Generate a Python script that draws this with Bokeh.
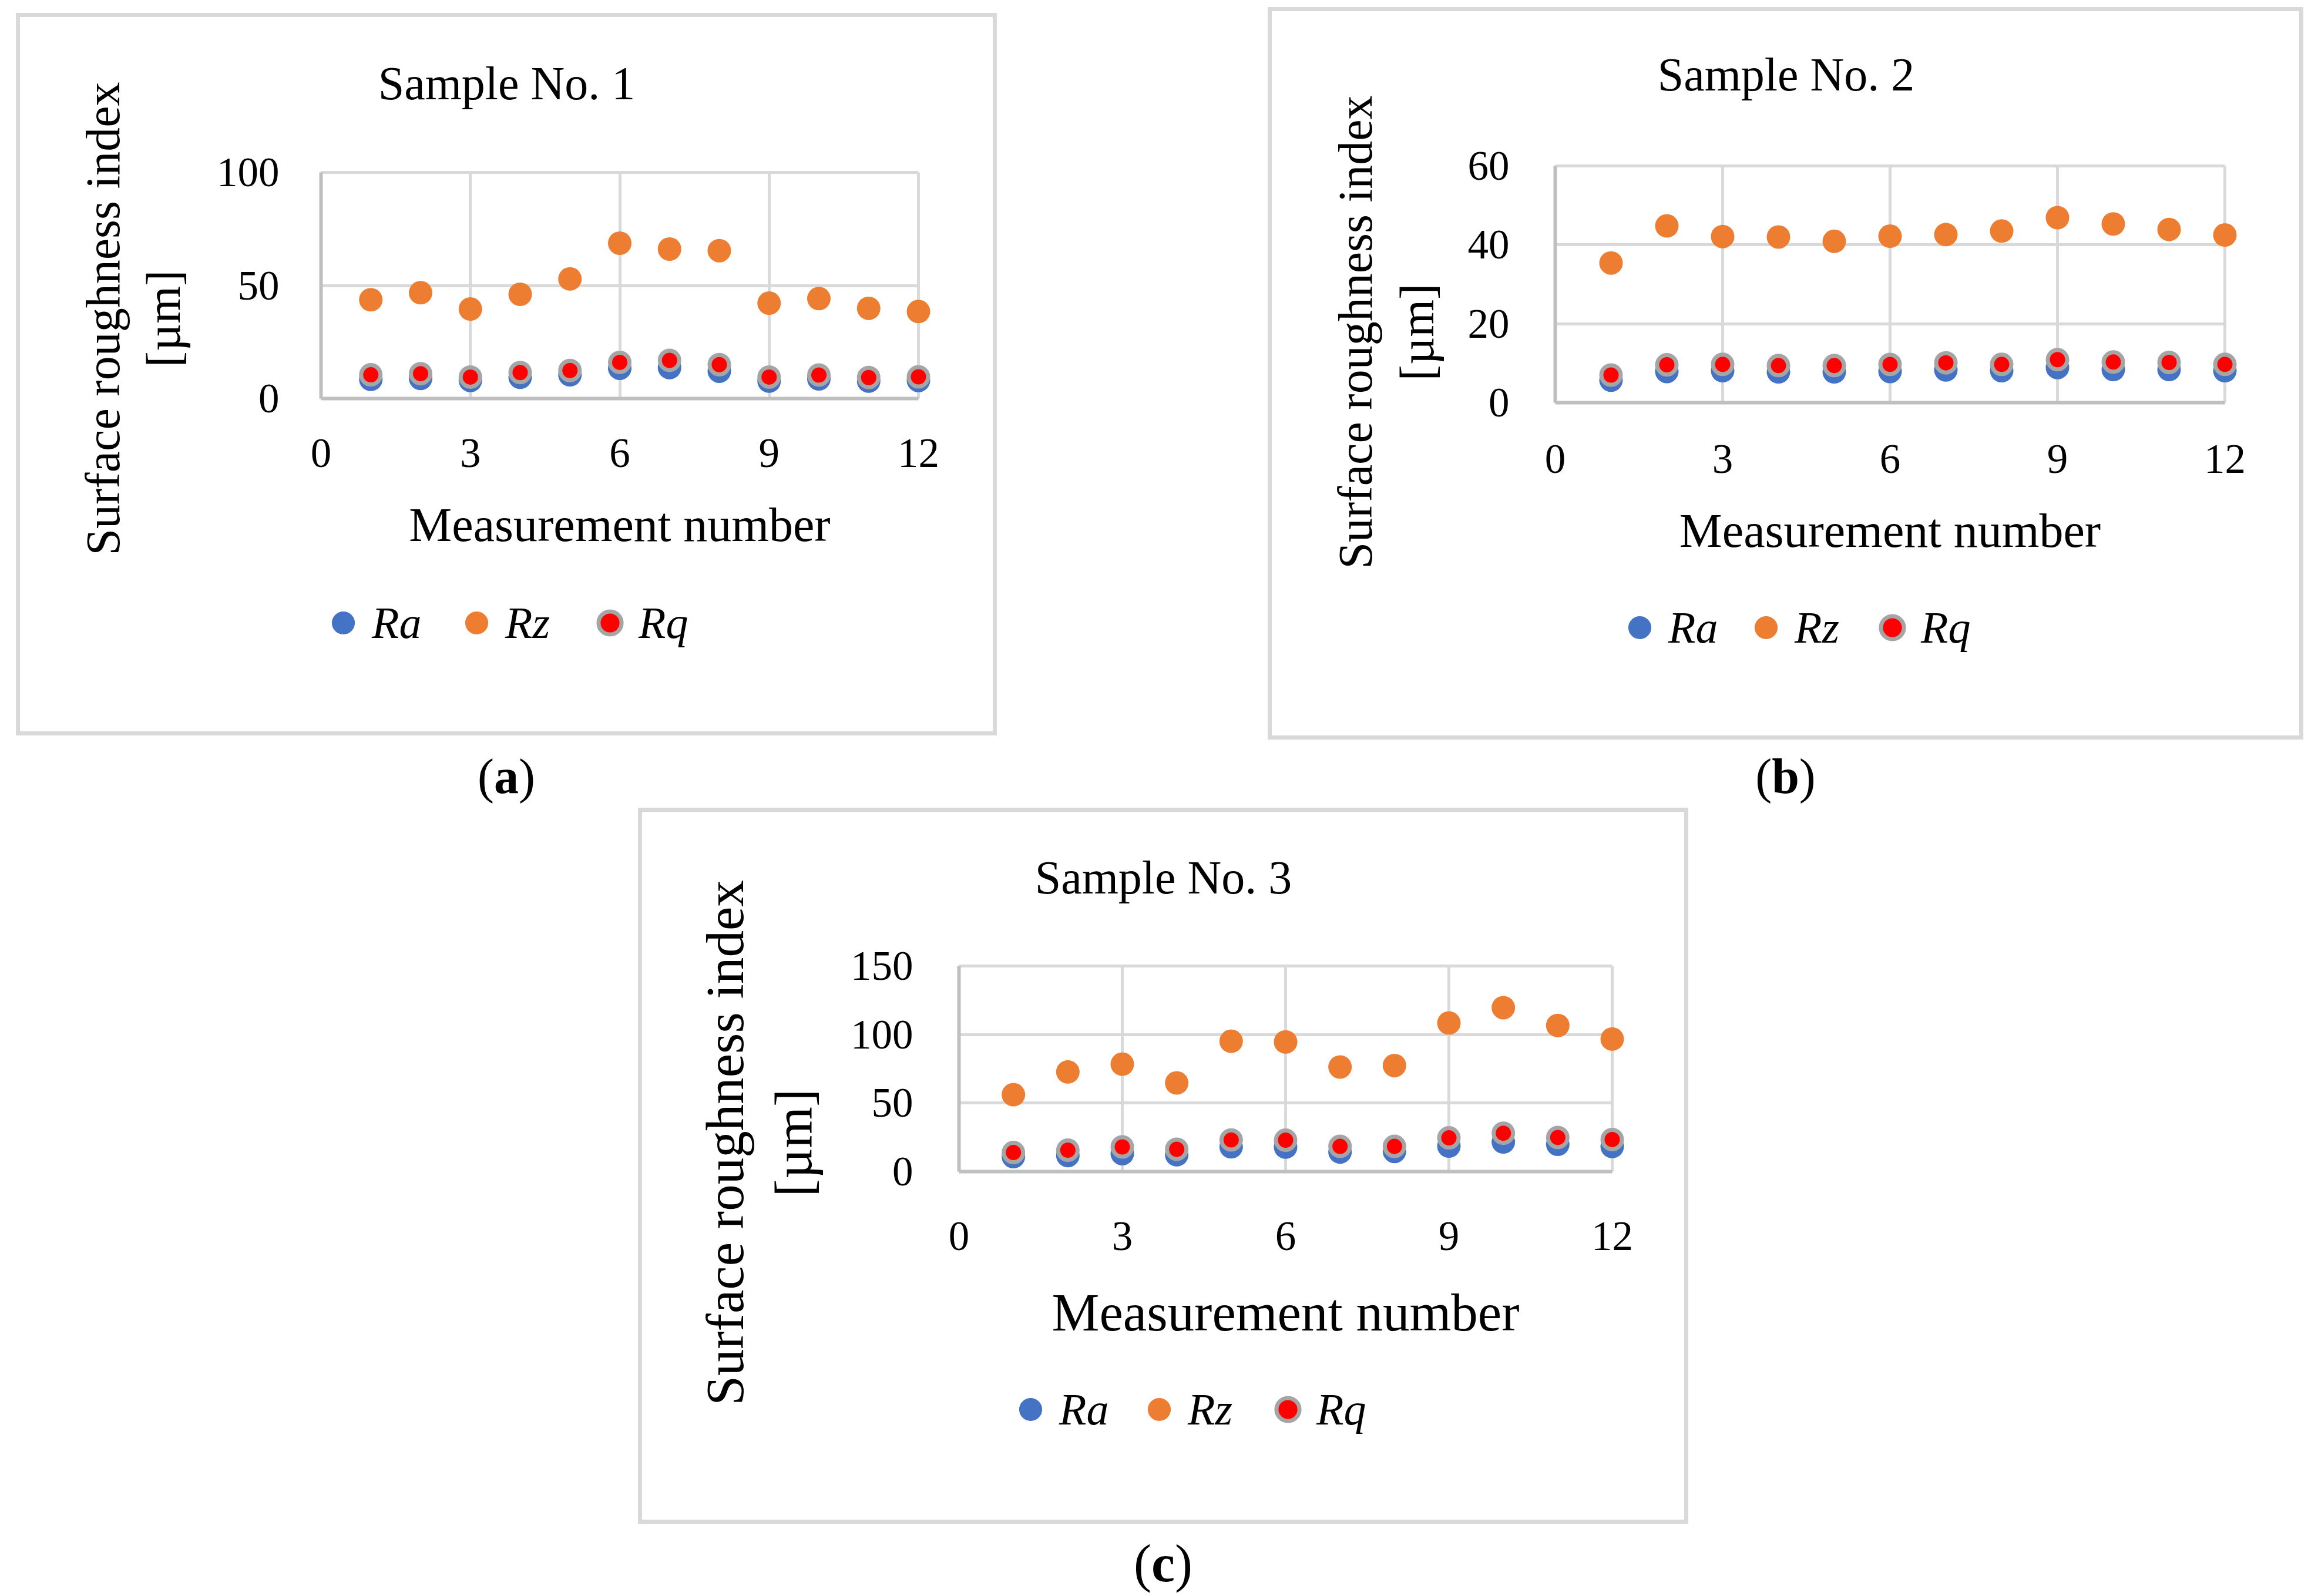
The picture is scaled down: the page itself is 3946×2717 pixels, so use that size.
from math import pi
from bokeh.plotting import figure
from bokeh.models import Range1d, FixedTicker, Label, Legend, LegendItem, Div, Spacer
from bokeh.layouts import column, row
from bokeh.embed import file_html
from bokeh.resources import INLINE

# ---------------- data ----------------
measurement = [1, 2, 3, 4, 5, 6, 7, 8, 9, 10, 11, 12]
x_ticks = [0, 3, 6, 9, 12]
series_names = ["Ra", "Rz", "Rq"]
sample_titles = ["Sample No. 1", "Sample No. 2", "Sample No. 3"]
captions = ["a", "b", "c"]
x_title = "Measurement number"
y_title = "Surface roughness index"
y_unit = "[µm]"

ra_s1 = [8.5, 8.9, 8.0, 9.4, 10.5, 13.4, 13.7, 12.1, 7.7, 8.7, 7.7, 8.0]
rz_s1 = [43.7, 46.8, 39.6, 46.1, 52.9, 68.7, 66.1, 65.4, 42.2, 44.2, 39.9, 38.5]
rq_s1 = [10.5, 11.0, 9.5, 11.5, 12.4, 16.0, 16.9, 15.0, 9.5, 10.4, 9.3, 9.6]
y_ticks_s1 = [0, 50, 100]

ra_s2 = [5.7, 7.9, 8.1, 7.8, 7.8, 7.9, 8.3, 8.1, 8.9, 8.4, 8.4, 8.1]
rz_s2 = [35.4, 44.8, 42.1, 42.0, 40.9, 42.2, 42.6, 43.5, 46.9, 45.3, 43.9, 42.5]
rq_s2 = [7.0, 9.6, 9.7, 9.4, 9.4, 9.7, 10.1, 9.7, 10.9, 10.3, 10.2, 9.7]
y_ticks_s2 = [0, 20, 40, 60]

ra_s3 = [10.9, 11.7, 13.1, 12.3, 18.1, 17.9, 14.3, 14.7, 18.6, 21.6, 19.9, 18.3]
rz_s3 = [56.1, 72.7, 78.4, 64.7, 95.1, 94.6, 76.3, 77.4, 108.4, 119.6, 106.6, 96.7]
rq_s3 = [13.9, 15.6, 18.0, 16.3, 23.1, 22.9, 18.4, 18.4, 24.6, 28.0, 24.9, 23.4]
y_ticks_s3 = [0, 50, 100, 150]

# ---------------- style ----------------
FONT = "Liberation Serif"
COL_RA = "#4472C4"
COL_RZ = "#ED7D31"
COL_RQ_FILL = "#FF0000"
COL_RQ_LINE = "#A5A5A5"
GRID = "#d9d9d9"
AXIS = "#bfbfbf"
GW = 98           # legend glyph box
LW = 100          # legend label width
BASE_CORR = 0.35  # em shift to put the Label baseline where intended

# page-pixel layout of each chart
cfg_a = dict(box=(27, 22, 1697, 1252), frame=(546, 293, 1563, 678),
             title_xy=(862, 169), yt1=(204, 542), yt2=(307, 542), label_fs=82,
             tick_fs=71, xtick_so=69, ytick_so=71, xlab_so=50,
             leg=(584, 1060), leg_sp=29)
cfg_b = dict(box=(2158, 12, 3921, 1259), frame=(2647, 282, 3787, 685),
             title_xy=(3040, 154), yt1=(2336, 565), yt2=(2441, 565), label_fs=82,
             tick_fs=71, xtick_so=72, ytick_so=78, xlab_so=50,
             leg=(2791, 1068), leg_sp=17)
cfg_c = dict(box=(1086, 1375, 2874, 2594), frame=(1632, 1644, 2744, 1994),
             title_xy=(1980, 1521), yt1=(1266, 1945), yt2=(1383, 1945), label_fs=91,
             tick_fs=71, xtick_so=86, ytick_so=78, xlab_so=53,
             leg=(1754, 2399), leg_sp=21)


def make_panel(cfg, ra, rz, rq, yticks, title):
    bx0, by0, bx1, by1 = cfg["box"]
    fl, ft, fr, fb = cfg["frame"]
    xmax = x_ticks[-1]
    ymax = yticks[-1]
    kx = (fr - fl) / xmax
    ky = (fb - ft) / ymax
    W = bx1 - bx0
    H = by1 - by0

    p = figure(frame_width=W, frame_height=H,
               min_border_left=0, min_border_right=0,
               min_border_top=0, min_border_bottom=0,
               x_range=Range1d(-(fl - bx0) / kx, xmax + (bx1 - fr) / kx),
               y_range=Range1d(-(by1 - fb) / ky, ymax + (ft - by0) / ky),
               output_backend="svg", toolbar_location=None, tools="")
    p.styles = {"box-shadow": "inset 0 0 0 7px #d9d9d9"}
    p.border_fill_color = None
    p.background_fill_color = None
    p.outline_line_color = None

    def dx(px):
        return (px - fl) / kx

    def dy(py):
        return (fb - py) / ky

    xa = p.xaxis[0]
    ya = p.yaxis[0]
    xa.fixed_location = 0
    ya.fixed_location = 0
    xa.ticker = FixedTicker(ticks=x_ticks)
    ya.ticker = FixedTicker(ticks=yticks)
    xa.bounds = (0, xmax)
    ya.bounds = (0, ymax)
    for ax in (xa, ya):
        ax.axis_line_color = AXIS
        ax.axis_line_width = 6
        ax.major_tick_line_color = None
        ax.minor_tick_line_color = None
        ax.major_tick_out = 0
        ax.major_tick_in = 0
        ax.minor_tick_out = 0
        ax.major_label_text_font = FONT
        ax.major_label_text_font_size = f"{cfg['tick_fs']}px"
        ax.major_label_text_color = "black"
    xa.major_label_standoff = cfg["xtick_so"]
    ya.major_label_standoff = cfg["ytick_so"]
    xa.axis_label = x_title
    xa.axis_label_text_font = FONT
    xa.axis_label_text_font_style = "normal"
    xa.axis_label_text_font_size = f"{cfg['label_fs']}px"
    xa.axis_label_text_color = "black"
    xa.axis_label_standoff = cfg["xlab_so"]

    p.xgrid.ticker = FixedTicker(ticks=x_ticks)
    p.ygrid.ticker = FixedTicker(ticks=yticks)
    p.xgrid[0].cross_bounds = (0, ymax)
    p.ygrid[0].cross_bounds = (0, xmax)
    for g in (p.xgrid[0], p.ygrid[0]):
        g.grid_line_color = GRID
        g.grid_line_width = 5

    r_ra = p.scatter(measurement, ra, size=40, marker="circle",
                     fill_color=COL_RA, line_color=None)
    r_rz = p.scatter(measurement, rz, size=40, marker="circle",
                     fill_color=COL_RZ, line_color=None)
    r_rq = p.scatter(measurement, rq, size=33, marker="circle",
                     fill_color=COL_RQ_FILL, line_color=COL_RQ_LINE, line_width=7)

    lcx, lcy = cfg["leg"]
    legend = Legend(items=[LegendItem(label=series_names[0], renderers=[r_ra]),
                           LegendItem(label=series_names[1], renderers=[r_rz]),
                           LegendItem(label=series_names[2], renderers=[r_rq])],
                    orientation="horizontal",
                    location=(lcx - GW / 2 - bx0, by1 - (lcy + GW / 2)),
                    glyph_width=GW, glyph_height=GW, label_standoff=-6,
                    label_width=LW, spacing=cfg["leg_sp"], padding=0, margin=0,
                    border_line_color=None, background_fill_alpha=0,
                    label_text_font=FONT, label_text_font_style="italic",
                    label_text_font_size="76px", label_text_color="black")
    p.add_layout(legend)

    tx, ty = cfg["title_xy"]
    p.add_layout(Label(x=dx(tx), y=dy(ty - BASE_CORR * 80), text=title,
                       text_align="center", text_baseline="alphabetic",
                       text_font=FONT, text_font_size="80px", text_color="black"))
    fs = cfg["label_fs"]
    for (lx, ly), txt in ((cfg["yt1"], y_title), (cfg["yt2"], y_unit)):
        p.add_layout(Label(x=dx(lx - BASE_CORR * fs), y=dy(ly), text=txt, angle=pi / 2,
                           text_align="center", text_baseline="alphabetic",
                           text_font=FONT, text_font_size=f"{fs}px",
                           text_color="black"))
    return p


fig_a = make_panel(cfg_a, ra_s1, rz_s1, rq_s1, y_ticks_s1, sample_titles[0])
fig_b = make_panel(cfg_b, ra_s2, rz_s2, rq_s2, y_ticks_s2, sample_titles[1])
fig_c = make_panel(cfg_c, ra_s3, rz_s3, rq_s3, y_ticks_s3, sample_titles[2])


def caption(letter, width, height, fs, lh):
    return Div(text=f"(<b>{letter}</b>)", width=width, height=height,
               styles={"font-family": "'Liberation Serif'", "font-size": f"{fs}px",
                       "line-height": f"{lh}px", "text-align": "center",
                       "color": "black", "margin": "0", "padding": "0"})


ax0, ay0, ax1, ay1 = cfg_a["box"]
bx0, by0, bx1, by1 = cfg_b["box"]
cx0, cy0, cx1, cy1 = cfg_c["box"]
M = 0  # page offset of the layout origin
row1_bottom = max(ay1, by1)

top_row = row(Spacer(width=ax0 - M),
              column(Spacer(height=ay0 - M), fig_a),
              Spacer(width=bx0 - ax1),
              column(Spacer(height=by0 - M), fig_b))
cap_row = row(Spacer(width=ax0 - M),
              caption(captions[0], ax1 - ax0, cy0 - row1_bottom, 84, 125),
              Spacer(width=bx0 - ax1),
              caption(captions[1], bx1 - bx0, cy0 - row1_bottom, 84, 125))
bottom_row = row(Spacer(width=cx0 - M), fig_c)
cap_row2 = row(Spacer(width=cx0 - M), caption(captions[2], cx1 - cx0, 114, 90, 135))

layout = column(top_row, cap_row, bottom_row, cap_row2)

open("out.html", "w").write(file_html(layout, INLINE))
